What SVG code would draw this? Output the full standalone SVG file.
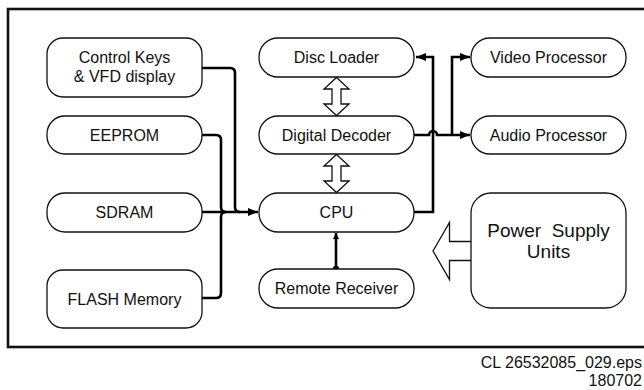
<svg xmlns="http://www.w3.org/2000/svg" width="644" height="390" viewBox="0 0 644 390">
<style>
.n{fill:#fff;stroke:#111;stroke-width:1.3}
.t{font-family:"Liberation Sans",Arial,sans-serif;font-size:16px;fill:#111;text-anchor:middle}
.c{fill:none;stroke:#000;stroke-width:2.6}
.h{fill:#fff;stroke:#111;stroke-width:1.3;stroke-linejoin:miter}
</style>
<defs>
<marker id="ah" markerUnits="userSpaceOnUse" markerWidth="10" markerHeight="8" refX="10" refY="4" orient="auto">
<path d="M0,0 L10,4 L0,8 z" fill="#000"/>
</marker>
<marker id="as" markerUnits="userSpaceOnUse" markerWidth="6" markerHeight="6" refX="6" refY="3" orient="auto">
<path d="M0,0 L6,3 L0,6 z" fill="#000"/>
</marker>
</defs>
<rect x="8" y="9" width="660" height="338" fill="none" stroke="#111" stroke-width="2.6"/>
<g id="connectors">
<path class="c" d="M202,68 H230 Q235,68 235,73 V207 Q235,212 240,212"/>
<path class="c" d="M202,135 H216 Q221,135 221,140 V207 Q221,212 226,212"/>
<path class="c" d="M202,298 H216 Q221,298 221,293 V217 Q221,212 226,212"/>
<path class="c" d="M202,212 H258" marker-end="url(#ah)"/>
<path class="c" d="M414,212 H433 V57 H416" marker-end="url(#ah)"/>
<path class="c" d="M414,135 H429 A4,4 0 0 1 437,135 H470" marker-end="url(#ah)"/>
<path class="c" d="M452,135 V57 H470" marker-end="url(#ah)"/>
<path class="c" d="M336,269 V233" stroke-width="2.2" marker-end="url(#as)"/>
<circle cx="336" cy="269" r="3.2" fill="#000"/>
<polygon class="h" points="336.5,77.5 349,89 341,89 341,104 349,104 336.5,115.5 324,104 332,104 332,89 324,89"/>
<polygon class="h" points="336.5,154.5 349,166 341,166 341,181 349,181 336.5,192.5 324,181 332,181 332,166 324,166"/>
<polygon class="h" points="433,251 449.5,222.5 449.5,241.5 472,241.5 472,260.5 449.5,260.5 449.5,279.5"/>
</g>
<g id="control-keys"><rect class="n" x="47" y="38" width="155" height="59" rx="16"/><text class="t" x="124.5" y="63">Control Keys</text><text class="t" x="124.5" y="82">&amp; VFD display</text></g>
<g id="eeprom"><rect class="n" x="47" y="116" width="155" height="38" rx="18"/><text class="t" x="124.5" y="141">EEPROM</text></g>
<g id="sdram"><rect class="n" x="47" y="193" width="155" height="39" rx="18"/><text class="t" x="124.5" y="218">SDRAM</text></g>
<g id="flash-memory"><rect class="n" x="47" y="270" width="155" height="58" rx="16"/><text class="t" x="124.5" y="305">FLASH Memory</text></g>
<g id="disc-loader"><rect class="n" x="259" y="38" width="155" height="39" rx="19"/><text class="t" x="336.5" y="63">Disc Loader</text></g>
<g id="digital-decoder"><rect class="n" x="259" y="116" width="155" height="38" rx="19"/><text class="t" x="336.5" y="141">Digital Decoder</text></g>
<g id="cpu"><rect class="n" x="259" y="193" width="155" height="39" rx="19"/><text class="t" x="336.5" y="218">CPU</text></g>
<g id="remote-receiver"><rect class="n" x="259" y="269" width="155" height="39" rx="19"/><text class="t" x="336.5" y="294">Remote Receiver</text></g>
<g id="video-processor"><rect class="n" x="471" y="38" width="155" height="39" rx="19"/><text class="t" x="548.5" y="63">Video Processor</text></g>
<g id="audio-processor"><rect class="n" x="471" y="116" width="155" height="38" rx="19"/><text class="t" x="548.5" y="141">Audio Processor</text></g>
<g id="power-supply"><rect class="n" x="471" y="193" width="155" height="115" rx="20"/><text class="t" x="548.5" y="237" style="font-size:19px" xml:space="preserve">Power  Supply</text><text class="t" x="548.5" y="258" style="font-size:19px">Units</text></g>
<g id="footer">
<text class="t" x="642" y="368" style="text-anchor:end">CL 26532085_029.eps</text>
<text class="t" x="642" y="386" style="text-anchor:end">180702</text>
</g>
</svg>
